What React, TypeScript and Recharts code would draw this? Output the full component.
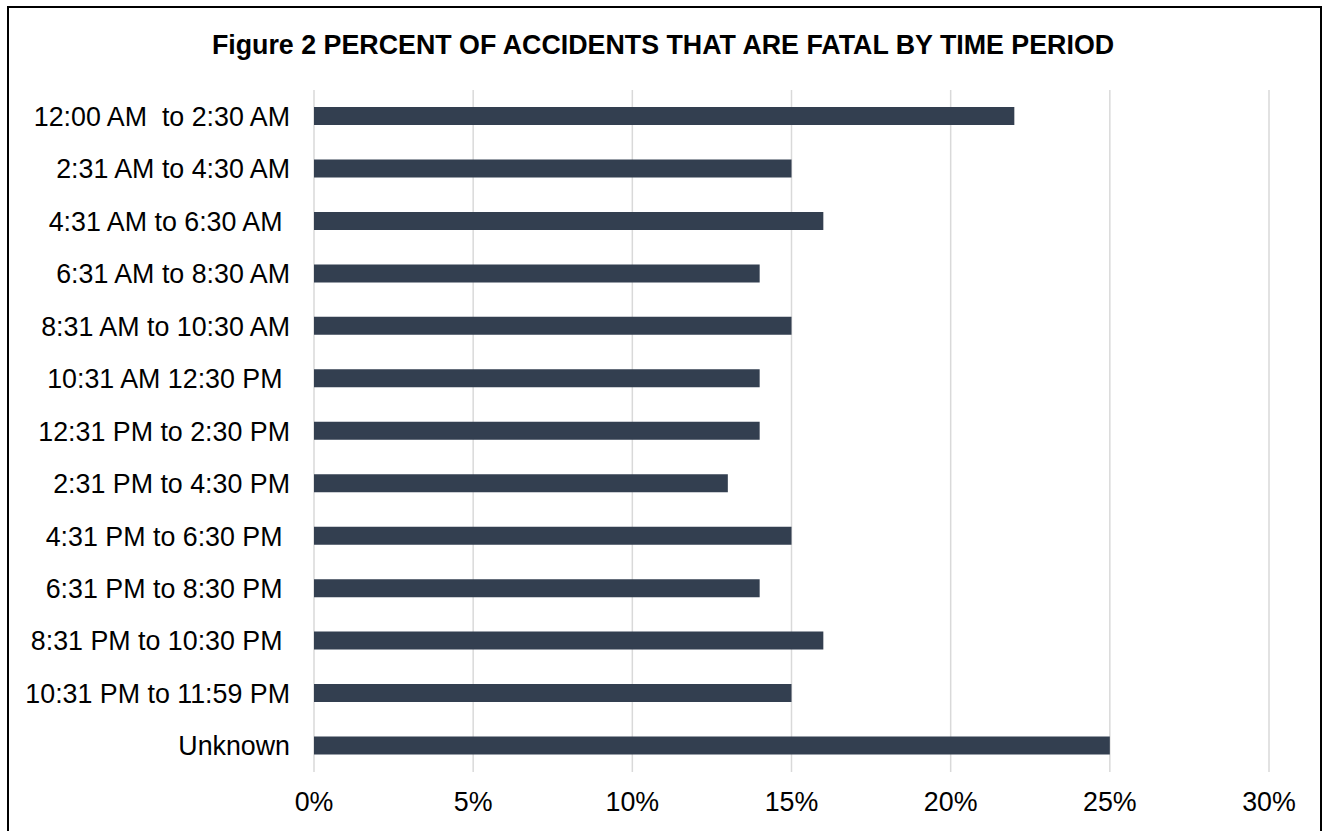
import { Bar, BarChart, CartesianGrid, XAxis, YAxis } from 'recharts';

// Time periods, top to bottom. Some source labels carry trailing / doubled spaces.
const periods = [
  '12:00 AM  to 2:30 AM',
  '2:31 AM to 4:30 AM',
  '4:31 AM to 6:30 AM ',
  '6:31 AM to 8:30 AM',
  '8:31 AM to 10:30 AM',
  '10:31 AM 12:30 PM ',
  '12:31 PM to 2:30 PM',
  '2:31 PM to 4:30 PM',
  '4:31 PM to 6:30 PM ',
  '6:31 PM to 8:30 PM ',
  '8:31 PM to 10:30 PM ',
  '10:31 PM to 11:59 PM',
  'Unknown',
];

const fatalShare = [0.22, 0.15, 0.16, 0.14, 0.15, 0.14, 0.14, 0.13, 0.15, 0.14, 0.16, 0.15, 0.25];

const xTicks = [0, 0.05, 0.1, 0.15, 0.2, 0.25, 0.3];

const rows = periods.map((period, i) => ({ period, share: fatalShare[i] }));

const FONT = '"Liberation Sans", Arial, sans-serif';
const LABEL_SIZE = 26.8;

function PeriodTick(props: any) {
  const { x, y, payload } = props;
  return (
    <text
      x={x}
      y={y}
      dy="0.36em"
      textAnchor="end"
      fill="#000"
      fontSize={LABEL_SIZE}
      fontFamily={FONT}
      style={{ whiteSpace: 'pre' }}
    >
      {payload.value}
    </text>
  );
}

export default function App() {
  return (
    <div
      style={{
        position: 'fixed',
        left: 0,
        top: 0,
        width: 1326,
        height: 831,
        overflow: 'hidden',
        background: '#fff',
      }}
    >
      <div
        style={{
          position: 'absolute',
          left: 7,
          top: 6,
          width: 1315,
          height: 900,
          border: '2px solid #000',
          boxSizing: 'border-box',
        }}
      />
      <div
        style={{
          position: 'absolute',
          left: 0,
          top: 32.3,
          width: 1326,
          textAlign: 'center',
          fontFamily: FONT,
          fontWeight: 'bold',
          fontSize: 26.8,
          lineHeight: '26.8px',
          color: '#000',
          whiteSpace: 'nowrap',
        }}
      >
        Figure 2 PERCENT OF ACCIDENTS THAT ARE FATAL BY TIME PERIOD
      </div>
      <div style={{ position: 'absolute', left: 0, top: 0 }}>
        <BarChart
          width={1326}
          height={831}
          data={rows}
          layout="vertical"
          margin={{ top: 90, right: 57, bottom: 0, left: 0 }}
        >
          <CartesianGrid horizontal={false} stroke="#d9d9d9" strokeWidth={1.5} />
          <XAxis
            type="number"
            domain={[0, 0.3]}
            ticks={xTicks}
            height={59}
            axisLine={false}
            tickLine={false}
            tickSize={0}
            tickMargin={20}
            tickFormatter={(v: number) => `${Math.round(v * 100)}%`}
            tick={{ fill: '#000', fontSize: LABEL_SIZE, fontFamily: FONT }}
          />
          <YAxis
            type="category"
            dataKey="period"
            width={314}
            axisLine={false}
            tickLine={false}
            tickSize={0}
            tickMargin={24}
            interval={0}
            tick={<PeriodTick />}
          />
          <Bar dataKey="share" fill="#333f50" barSize={18} isAnimationActive={false} />
        </BarChart>
      </div>
    </div>
  );
}
